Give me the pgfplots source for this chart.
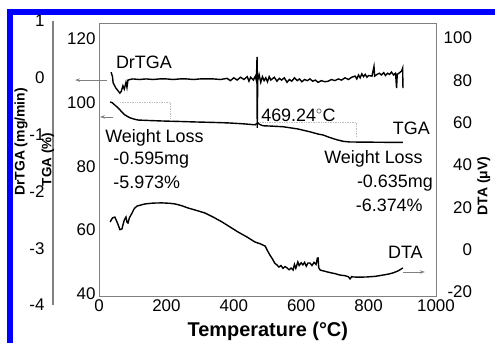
\documentclass[border=0pt]{standalone}
\usepackage{fontspec}
\setmainfont{Liberation Sans}
\usepackage{pgfplots}
\pgfplotsset{compat=1.18}
\usetikzlibrary{arrows.meta}
\definecolor{axgray}{RGB}{128,128,128}
\definecolor{dotgray}{RGB}{190,190,190}
\newcommand{\annfont}{\fontsize{18}{18}\selectfont}
\pgfplotsset{every axis/.append style={/pgf/number format/1000 sep={}}}

\begin{document}
\begin{tikzpicture}
\path[use as bounding box] (-99bp,-47bp) rectangle (396bp,296bp);
\fill[blue] (-92bp,281bp) rectangle (396bp,287bp);
\fill[blue] (-92bp,-47bp) rectangle (-86bp,287bp);

% ---------------- DrTGA axis (outer left) ----------------
\begin{axis}[
  at={(-46bp,-9bp)}, anchor=south west,
  scale only axis, width=383bp, height=284bp,
  xmin=-136.5, xmax=1000, ymin=-4, ymax=1,
  hide x axis, axis y line*=left,
  axis line style={-, axgray, line width=1.2bp},
  ytick={-4,-3,-2,-1,0,1},
  major tick length=0pt,
  /pgf/number format/assume math mode=true,
  tick label style={font=\fontsize{17}{17}\selectfont},
  yticklabel style={xshift=-5bp},
  ylabel={DrTGA (mg/min)},
  ylabel style={font=\fontsize{14}{14}\selectfont\bfseries, at={(axis description cs:-0.0836,0.574)}, anchor=center},
  clip=false,
]
\addplot[black, line width=1.4bp] coordinates {
(36,0.10) (40,0.02) (42,-0.09) (50,-0.18) (58,-0.24) (62,-0.27) (66,-0.24) (71,-0.14) (75,-0.20) (80,-0.08) (83,-0.17) (86,-0.04) (92,-0.03)
(100,-0.02) (120,-0.03) (140,-0.02) (160,-0.03) (180,-0.02) (200,-0.02) (220,-0.03) (240,-0.02) (260,-0.02) (280,-0.03) (300,-0.02) (320,-0.02) (340,-0.02) (360,-0.03)
(380,-0.01) (390,-0.05) (400,0.00) (410,-0.04) (420,0.01) (430,-0.03) (440,0.02) (445,-0.06) (450,0.01) (458,-0.04) (464,0.03) (467,-0.05)
(469,0.37) (469.5,-0.88) (471,-0.05) (475,0.06) (480,-0.08) (485,0.02) (490,-0.05) (495,0.00) (500,-0.07) (505,0.02) (510,-0.04) (520,0.01)
(528,-0.06) (535,-0.01) (542,-0.04) (550,0.00) (558,-0.08) (565,-0.03) (572,-0.06) (580,0.00) (588,-0.05) (595,-0.02) (602,-0.07) (610,-0.03)
(618,-0.05) (626,-0.02) (634,-0.06) (642,-0.04) (650,-0.08) (660,-0.05) (670,-0.07) (680,-0.06) (690,-0.03) (700,-0.05) (710,-0.02) (720,-0.04)
(730,0.00) (740,-0.03) (750,0.01) (760,0.03) (765,-0.02) (770,0.05) (775,0.00) (780,0.07) (785,0.02) (790,0.06) (795,0.01) (800,0.04)
(810,0.03) (816,0.20) (818,0.03) (825,0.06) (832,0.08) (838,0.05) (845,0.09) (850,0.04) (856,0.08) (862,0.06) (868,0.10) (874,0.05) (880,0.08)
(883,-0.18) (885,0.06) (892,0.09) (898,0.12) (901,0.17) (902,-0.18)
};
\end{axis}

% ---------------- DTA axis (right) ----------------
\begin{axis}[
  at={(0,0)}, anchor=south west,
  scale only axis, width=337bp, height=273bp,
  xmin=0, xmax=1000, ymin=-21.89, ymax=107.09,
  hide x axis, axis y line*=right,
  axis line style={-, axgray, line width=0.8bp},
  ytick={-20,0,20,40,60,80,100},
  major tick length=0pt,
  /pgf/number format/assume math mode=true,
  tick label style={font=\fontsize{17}{17}\selectfont},
  yticklabel style={anchor=east, xshift=39.5bp},
  ylabel={DTA (μV)},
  ylabel style={font=\fontsize{14}{14}\selectfont\bfseries, at={(axis description cs:1.142,0.403)}, anchor=center},
  clip=false,
]
\addplot[black, line width=1.4bp] coordinates {
(33,13.1) (40,15.0) (47,15.4) (55,12.5) (62,9.5) (68,9.8) (75,14.0) (80,15.4) (83,13.0) (86,12.6) (90,15.0) (98,17.3) (105,19.5) (113,20.6)
(136,21.6) (160,22.0) (187,22.1) (210,21.9) (226,21.6) (245,20.8) (264,19.7) (290,18.5) (315,17.3) (340,15.3) (365,13.1) (390,10.6) (412,8.4)
(440,5.9) (463,3.6) (478,2.8) (493,1.7) (500,-0.5) (507,-2.5) (515,-4.5) (522,-6.5) (528,-7.2) (534,-8.2) (540,-7.5) (546,-8.8) (552,-8.0)
(558,-8.6) (564,-9.5) (570,-8.7) (576,-9.6) (580,-7.0) (584,-8.8) (590,-5.8) (594,-7.5) (600,-6.2) (605,-7.2) (610,-6.0) (615,-7.8) (620,-6.3)
(626,-6.3) (632,-7.5) (638,-6.0) (644,-7.0) (648,-4.0) (650,-3.9) (652,-8.5) (656,-9.6) (665,-10.0) (677,-10.5) (690,-11.0) (700,-11.3)
(715,-12.0) (730,-12.3) (740,-12.8) (745,-13.8) (750,-12.7) (754,-12.9) (770,-13.0) (795,-12.9) (820,-12.6) (843,-12.0) (860,-11.5) (872,-11.0)
(888,-10.0) (902,-8.6)
};
\end{axis}

% ---------------- main axis (TGA) ----------------
\begin{axis}[
  at={(0,0)}, anchor=south west,
  scale only axis, width=337bp, height=273bp,
  xmin=0, xmax=1000, ymin=39.2, ymax=125,
  xtick={0,200,400,600,800,1000}, ytick={40,60,80,100,120},
  axis line style={axgray, line width=0.8bp},
  major tick length=0pt,
  /pgf/number format/assume math mode=true,
  tick label style={font=\fontsize{17}{17}\selectfont},
  xlabel={Temperature (°C)},
  xlabel style={font=\fontsize{20}{20}\selectfont\bfseries, at={(axis description cs:0.501,-0.128)}, anchor=center},
  clip=false,
]
\addplot[black, line width=1.4bp] coordinates {
(33,100.2) (40,99.9) (47,99.2) (55,98.5) (62,97.7) (70,96.8) (77,96.1) (85,95.6) (92,95.2) (104,94.8) (116,94.5) (150,94.35) (187,94.2)
(240,94.05) (285,93.9) (340,93.75) (383,93.6) (430,93.3) (463,93.0) (468,93.4) (472,93.6) (477,93.1) (487,92.7) (510,92.6) (546,92.4)
(590,91.7) (626,90.8) (650,90.1) (665,89.8) (685,89.0) (706,88.3) (725,87.8) (745,87.6) (800,87.55) (850,87.5) (902,87.5)
};
\addplot[dotgray, densely dotted, line width=0.7bp] coordinates {(62,100.2) (211,100.2) (211,94.4)};
\addplot[dotgray, densely dotted, line width=0.7bp] coordinates {(478,93.9) (763,93.9) (763,88.9)};

\draw[axgray, line width=0.8bp, -{Stealth[length=5bp,width=3.5bp]}] (rel axis cs:0.024,0.791) -- (rel axis cs:-0.071,0.791);
\draw[axgray, line width=0.8bp, -{Stealth[length=5bp,width=3.5bp]}] (rel axis cs:0.042,0.656) -- (rel axis cs:0.003,0.656);
\draw[axgray, line width=0.8bp, -{Stealth[length=5bp,width=3.5bp]}] (rel axis cs:0.902,0.088) -- (rel axis cs:0.967,0.088);

\node[rotate=90, anchor=center, inner sep=0pt, font=\fontsize{13.5}{13.5}\selectfont\bfseries] at (rel axis cs:-0.152,0.50) {TGA (\%)};

\node[anchor=west, font=\annfont, inner sep=0pt] at (rel axis cs:0.050,0.857) {DrTGA};
\node[anchor=west, font=\annfont, inner sep=0pt] at (rel axis cs:0.481,0.663) {469.24$^{\circ}$C};
\node[anchor=east, font=\annfont, inner sep=0pt] at (rel axis cs:0.982,0.615) {TGA};
\node[anchor=west, font=\annfont, inner sep=0pt] at (rel axis cs:0.018,0.579) {Weight Loss};
\node[anchor=west, font=\annfont, inner sep=0pt] at (rel axis cs:0.042,0.498) {-0.595mg};
\node[anchor=west, font=\annfont, inner sep=0pt] at (rel axis cs:0.042,0.418) {-5.973\%};
\node[anchor=east, font=\annfont, inner sep=0pt] at (rel axis cs:0.961,0.502) {Weight Loss};
\node[anchor=east, font=\annfont, inner sep=0pt] at (rel axis cs:0.991,0.414) {-0.635mg};
\node[anchor=east, font=\annfont, inner sep=0pt] at (rel axis cs:0.961,0.333) {-6.374\%};
\node[anchor=east, font=\annfont, inner sep=0pt] at (rel axis cs:0.961,0.161) {DTA};
\end{axis}
\end{tikzpicture}
\end{document}
